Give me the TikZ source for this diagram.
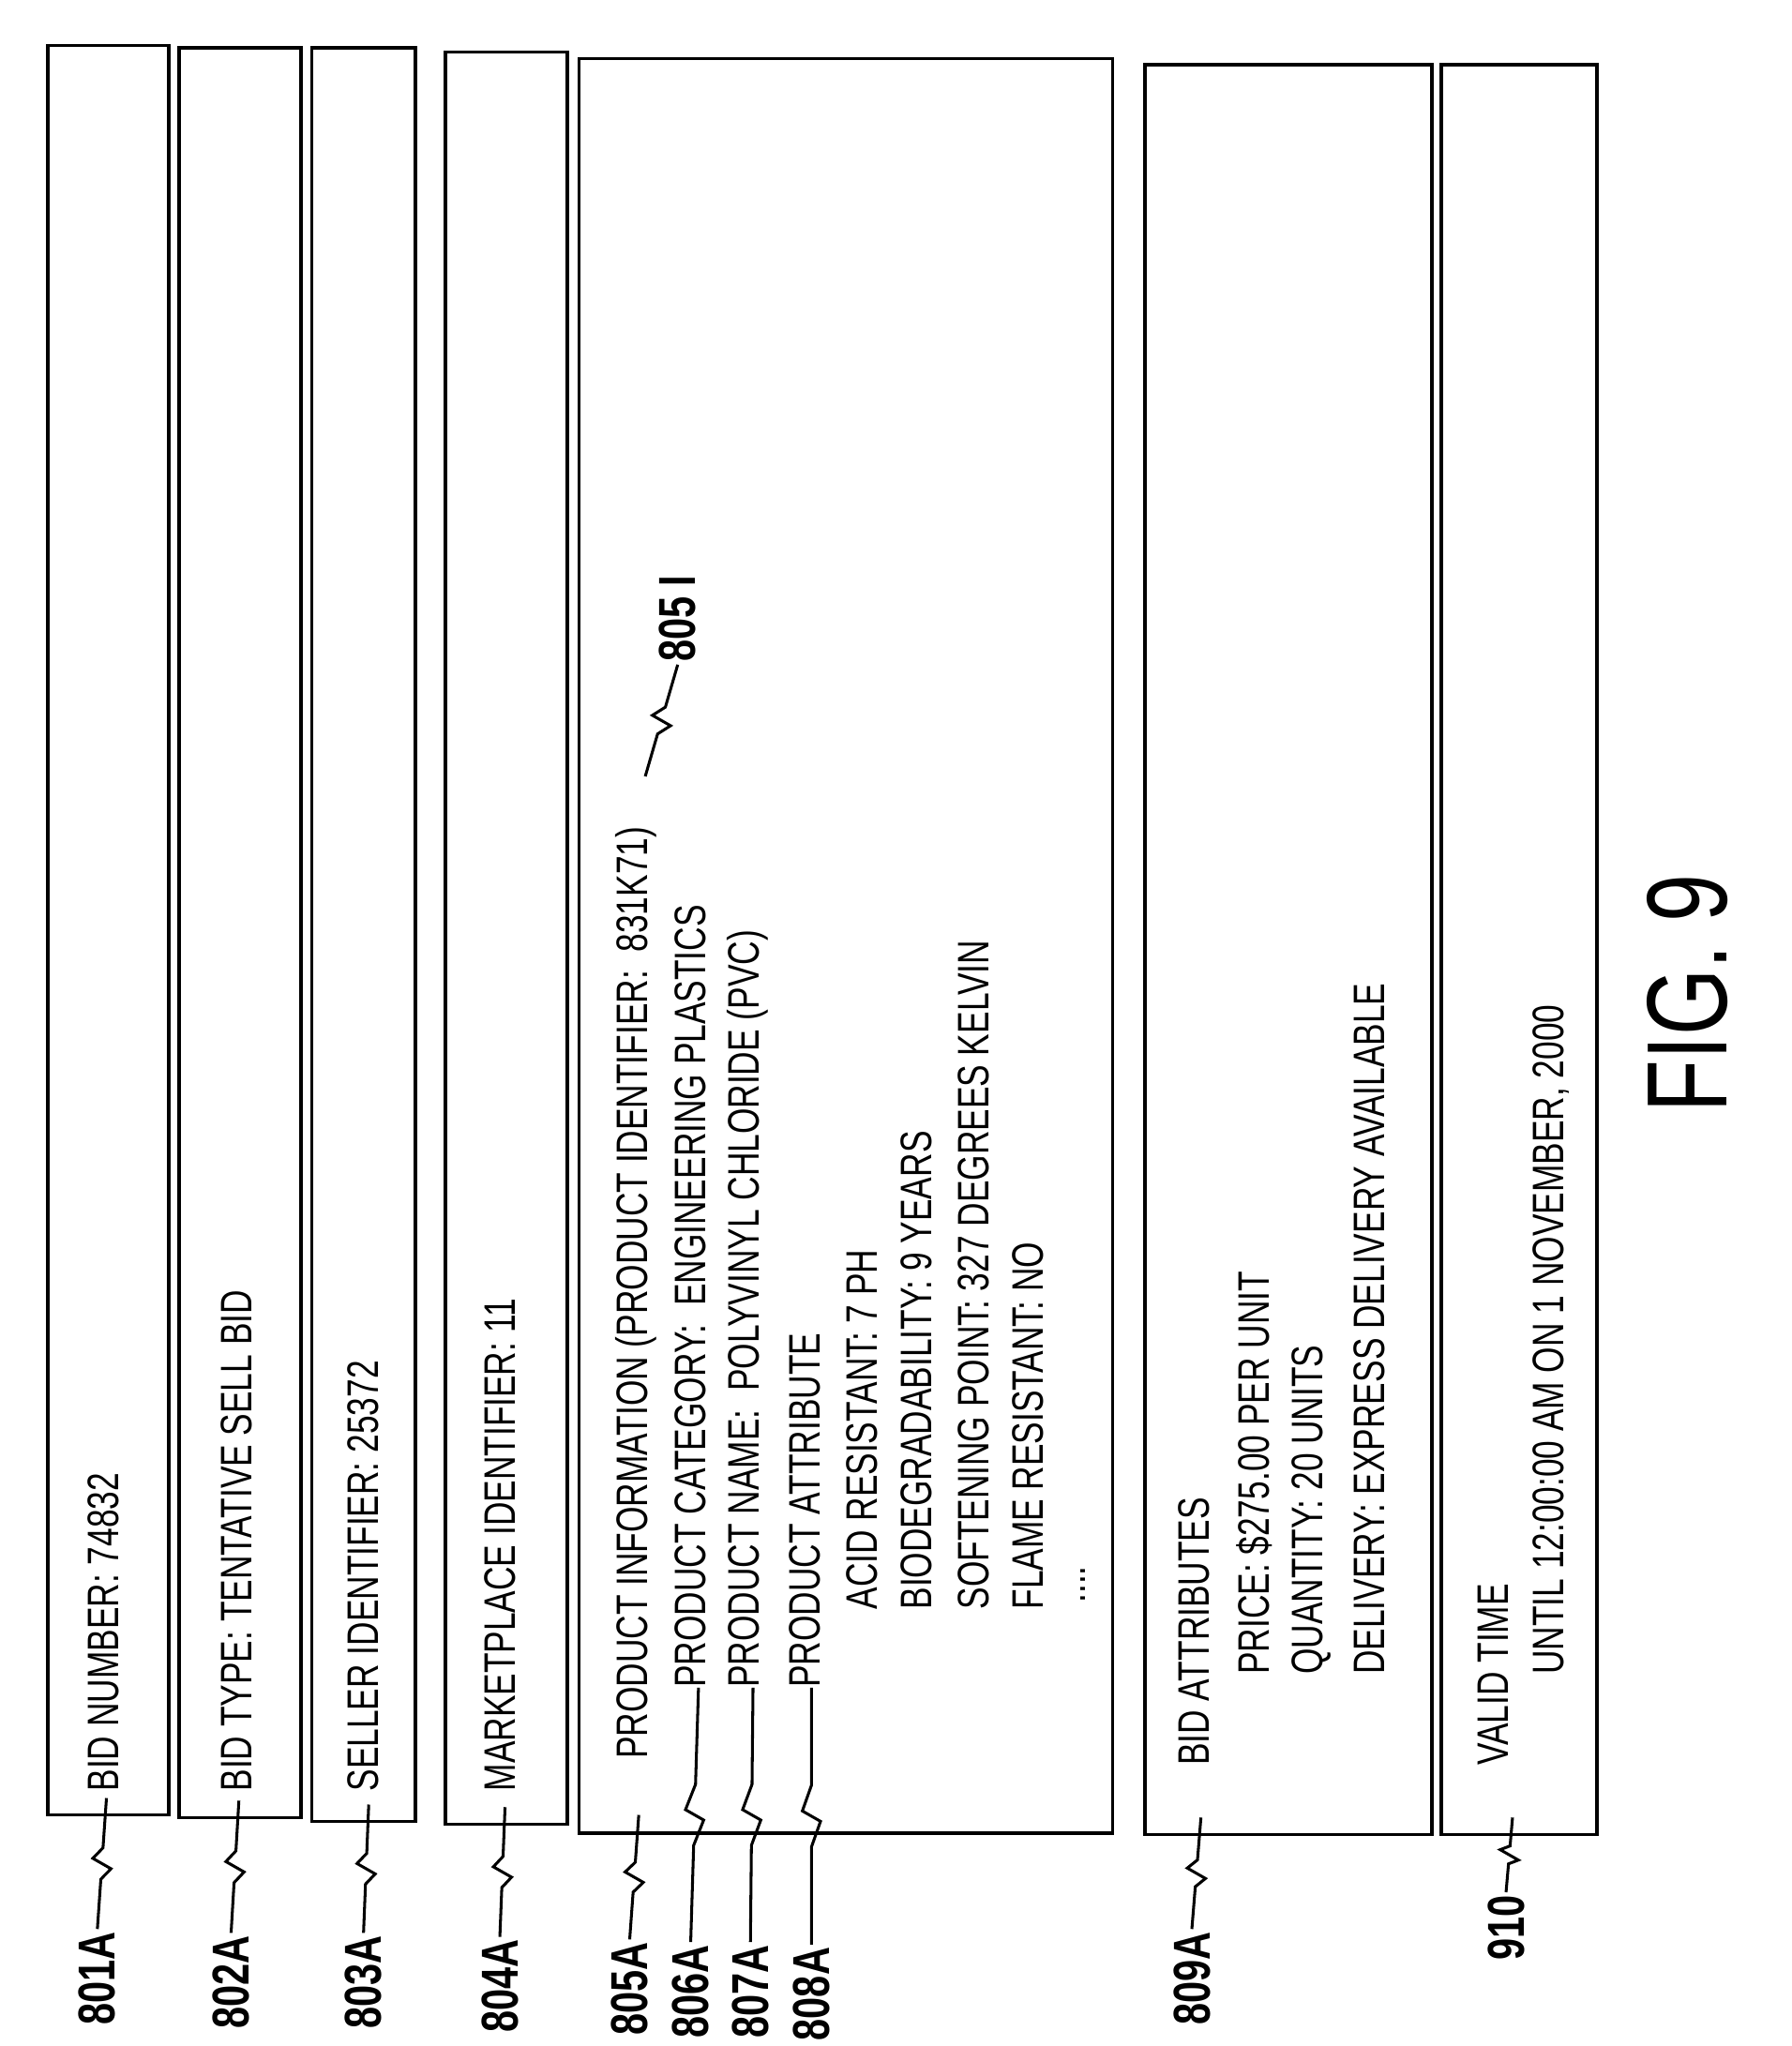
\documentclass[tikz,border=0pt]{standalone}
\usepackage{fontspec}
\setmainfont{Liberation Sans}[FakeStretch=0.75]
\usetikzlibrary{calc}
\tikzset{
  field/.style={draw, line width=2.5pt},
  txt/.style={rotate=90, anchor=west, inner sep=0pt, font=\fontsize{34}{36}\selectfont},
  ref/.style={rotate=90, anchor=west, inner sep=2pt, font=\fontsize{40}{44}\selectfont\bfseries},
  zz/.style={line width=2.2pt, to path={-- ($(\tikztostart)!0.38!(\tikztotarget)$)
      -- ($(\tikztostart)!0.5!(\tikztotarget)+(7,4)$)
      -- ($(\tikztostart)!0.5!(\tikztotarget)+(-7,-4)$)
      -- ($(\tikztostart)!0.62!(\tikztotarget)$) -- (\tikztotarget)}}
}
\begin{document}
\begin{tikzpicture}[x=1pt, y=-1pt]
    \useasboundingbox (0,0) rectangle (1380,1576);

    % Fields of the bid
    \draw[field] (37,35) rectangle (130,1398);
    \draw[field] (138,37) rectangle (232,1400);
    \draw[field] (240,37) rectangle (320,1403);
    \draw[field] (343,40) rectangle (437,1405);
    \draw[field] (446,45) rectangle (857,1412);
    \draw[field] (882,50) rectangle (1103,1413);
    \draw[field] (1110,50) rectangle (1230,1413);

    % Simple fields
    \node[txt] (bidnum) at (80,1380) {BID NUMBER: 74832};
    \node[txt] (bidtype) at (182,1380) {BID TYPE: TENTATIVE SELL BID};
    \node[txt] (seller) at (280,1380) {SELLER IDENTIFIER: 25372};
    \node[txt] (market) at (385,1380) {MARKETPLACE IDENTIFIER: 11};

    % Product information
    \node[txt] (prodinfo) at (490,1355) {PRODUCT INFORMATION (PRODUCT IDENTIFIER:\ \ 831K71)};
    \node[txt] (prodcat) at (532,1300) {PRODUCT CATEGORY:\ \ ENGINEERING PLASTICS};
    \node[txt] (prodname) at (576,1300) {PRODUCT NAME:\ \ POLYVINYL CHLORIDE (PVC)};
    \node[txt] (prodattr) at (620,1300) {PRODUCT ATTRIBUTE};
    \node[txt] (acid) at (664,1240) {ACID RESISTANT: 7 PH};
    \node[txt] (bio) at (706,1240) {BIODEGRADABILITY: 9 YEARS};
    \node[txt] (soft) at (750,1240) {SOFTENING POINT: 327 DEGREES KELVIN};
    \node[txt] (flame) at (792,1240) {FLAME RESISTANT: NO};
    \node[txt] (dots) at (834,1235) {....};

    % Bid attributes
    \node[txt] (bidattr) at (920,1360) {BID ATTRIBUTES};
    \node[txt] (price) at (966,1290) {PRICE: \$275.00 PER UNIT};
    \node[txt] (qty) at (1010,1290) {QUANTITY: 20 UNITS};
    \node[txt] (deliv) at (1055,1290) {DELIVERY: EXPRESS DELIVERY AVAILABLE};

    % Valid time
    \node[txt] (valid) at (1150,1360) {VALID TIME};
    \node[txt] (until) at (1195,1290) {UNTIL 12:00:00 AM ON 1 NOVEMBER, 2000};

    \node[rotate=90, font=\fontsize{88}{90}\selectfont] (fig) at (1300,765) {FIG. 9};

    % Reference numerals
    \node[ref] (r801) at (75,1562) {801A};
    \node[ref] (r802) at (178,1565) {802A};
    \node[ref] (r803) at (280,1565) {803A};
    \node[ref] (r804) at (385,1568) {804A};
    \node[ref] (r805) at (485,1570) {805A};
    \node[ref] (r806) at (532,1572) {806A};
    \node[ref] (r807) at (578,1572) {807A};
    \node[ref] (r808) at (625,1574) {808A};
    \node[ref] (r809) at (918,1562) {809A};
    \node[ref] (r910) at (1160,1512) {910};
    \node[ref] (r805i) at (522,512) {805 I};

    \coordinate (e801) at (82,1385);
    \coordinate (e802) at (184,1387);
    \coordinate (e803) at (284,1390);
    \coordinate (e804) at (389,1392);
    \coordinate (e805) at (492,1398);
    \coordinate (e806) at (538,1300);
    \coordinate (e807) at (580,1300);
    \coordinate (e808) at (625,1300);
    \coordinate (e809) at (925,1400);
    \coordinate (e910) at (1165,1400);
    \coordinate (s805i) at (497,598);

    % Leaders
    \draw[zz] (r801.east) to (e801);
    \draw[zz] (r802.east) to (e802);
    \draw[zz] (r803.east) to (e803);
    \draw[zz] (r804.east) to (e804);
    \draw[zz] (r805.east) to (e805);
    \draw[zz] (r806.east) to (e806);
    \draw[zz] (r807.east) to (e807);
    \draw[zz] (r808.east) to (e808);
    \draw[zz] (r809.east) to (e809);
    \draw[zz] (r910.east) to (e910);
    \draw[zz] (s805i) to (r805i.west);
\end{tikzpicture}
\end{document}
